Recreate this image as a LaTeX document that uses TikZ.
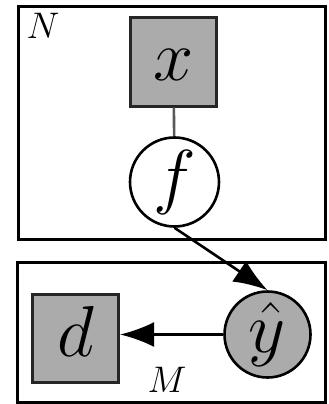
\documentclass[tikz,border=0pt]{standalone}
\usetikzlibrary{arrows.meta}
% large math symbols on a common baseline, enlarged from the biggest standard size
\newcommand{\bigsym}[1]{\scalebox{2.9}{\Huge$\vphantom{dy}#1$}}
\newcommand{\platesym}[1]{\scalebox{2.14}{\LARGE$#1$}}
\begin{document}
\begin{tikzpicture}[x=1pt,y=-1pt,
  plate/.style={draw=black, line width=3pt, rectangle, inner sep=0pt, outer sep=0pt},
  obsbox/.style={draw=black!85, fill=black!33, line width=3pt, rectangle, inner sep=0pt,
    minimum width=86pt, minimum height=88pt},
  latent/.style={draw=black, fill=white, line width=2.6pt, circle, inner sep=0pt,
    minimum size=89pt},
  shaded/.style={latent, fill=black!33},
  platelabel/.style={inner sep=0pt},
  edge/.style={line width=2.6pt, -{Latex[length=34pt,width=25pt]}}]
  \useasboundingbox (0,0) rectangle (329,404);
  % plates
  \node[plate, minimum width=307pt, minimum height=232pt] (plateN) at (171.5,123) {};
  \node[plate, minimum width=308pt, minimum height=140pt] (plateM) at (171,332) {};
  \node[platelabel] (labN) at (43,26) {\platesym{N}};
  \node[platelabel] (labM) at (167,380) {\platesym{M}};
  % variables
  \node[obsbox] (x) at (173.5,62) {\bigsym{x}};
  \node[latent] (f) at (174.5,182) {\bigsym{f}};
  \node[obsbox] (d) at (75.5,338) {\bigsym{d}};
  \node[shaded, minimum size=86pt] (yhat) at (267.5,334.5) {\bigsym{\hat{y}}};
  % connectors
  \draw[line width=2.6pt, draw=black!65] (x) -- (f);
  \draw[edge] (f.south) -- (yhat.north);
  \draw[edge] (yhat.west) -- (d.east |- yhat.west);
\end{tikzpicture}
\end{document}
